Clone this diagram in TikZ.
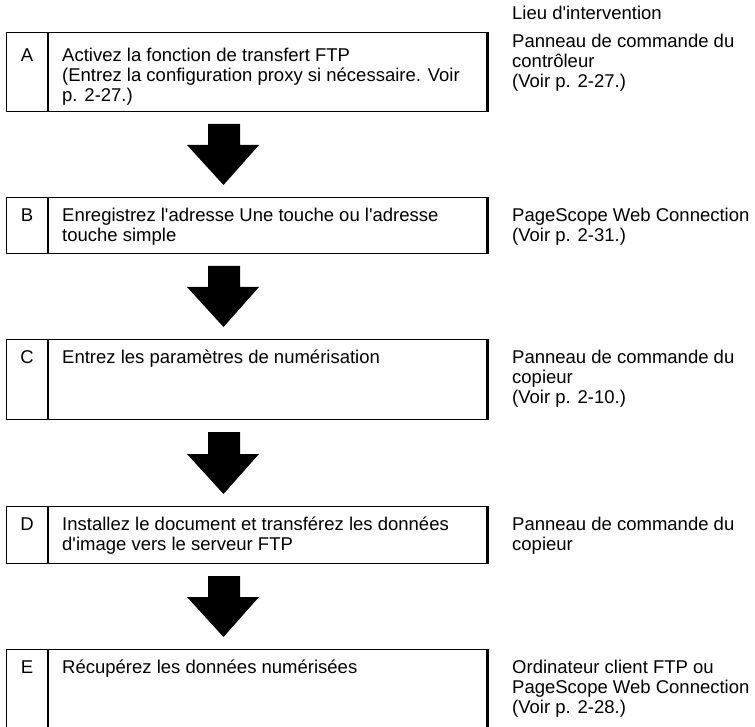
\documentclass[tikz,border=0pt]{standalone}
\usepackage{fontspec}
\setmainfont{Liberation Sans}[Ligatures=TeXOff]
\newcommand\fs{\rule{0pt}{18pt}}
\begin{document}
\begin{tikzpicture}[x=1pt,y=-1pt,
  txt/.style={anchor=north west, inner sep=0pt, align=left, font=\fontsize{18.5}{20}\selectfont},
  lett/.style={anchor=north, inner sep=0pt, font=\fontsize{18.5}{20}\selectfont},
  stepbox/.style={draw, line width=1.2pt, anchor=north west, minimum width=481pt, inner sep=0pt},
  rightedge/.style={line width=2.4pt},
  divider/.style={line width=1.2pt},
  blockarrow/.style={fill=black}]
\useasboundingbox (0,0) rectangle (755,727);
\clip (0,0) rectangle (755,727);

% header
\node[txt] (hdr) at (512,1) {\fs Lieu d'intervention};

% boxes
\node[stepbox, minimum height=79pt] (A) at (6,32) {};
\node[stepbox, minimum height=56pt] (B) at (6,197) {};
\node[stepbox, minimum height=80pt] (C) at (6,339) {};
\node[stepbox, minimum height=57pt] (D) at (6,506) {};
\node[stepbox, minimum height=84pt] (E) at (6,649) {};

\foreach \b in {A,B,C,D,E}{
  \draw[divider] (\b.north west -| 48,0) -- (\b.south west -| 48,0);
  \draw[rightedge] ([xshift=-0.6pt]\b.north east) -- ([xshift=-0.6pt]\b.south east);
}

% letters
\node[lett] (lA) at (27,43) {\fs A};
\node[lett] (lB) at (27,203) {\fs B};
\node[lett] (lC) at (27,345) {\fs C};
\node[lett] (lD) at (27,512) {\fs D};
\node[lett] (lE) at (27,655) {\fs E};

% step texts
\node[txt] (tA) at (62,43) {\fs Activez la fonction de transfert FTP\\(Entrez la configuration proxy si nécessaire. Voir\\p. 2-27.)};
\node[txt] (tB) at (62,203) {\fs Enregistrez l'adresse Une touche ou l'adresse\\touche simple};
\node[txt] (tC) at (62,345) {\fs Entrez les paramètres de numérisation};
\node[txt] (tD) at (62,512) {\fs Installez le document et transférez les données\\d'image vers le serveur FTP};
\node[txt] (tE) at (62,655) {\fs Récupérez les données numérisées};

% places
\node[txt] (pA) at (512,29) {\fs Panneau de commande du\\contrôleur\\(Voir p. 2-27.)};
\node[txt] (pB) at (512,203) {\fs PageScope Web Connection\\(Voir p. 2-31.)};
\node[txt] (pC) at (512,345) {\fs Panneau de commande du\\copieur\\(Voir p. 2-10.)};
\node[txt] (pD) at (512,512) {\fs Panneau de commande du\\copieur};
\node[txt] (pE) at (512,655) {\fs Ordinateur client FTP ou\\PageScope Web Connection\\(Voir p. 2-28.)};

% block arrows
\foreach \s/\t in {124/185,266/327,432/494,576/637}{
  \fill[blockarrow] (208,\s) -- (240,\s) -- (240,\t-40) -- (259,\t-40) -- (223.5,\t)
     -- (187,\t-40) -- (208,\t-40) -- cycle;
}
\end{tikzpicture}
\end{document}
